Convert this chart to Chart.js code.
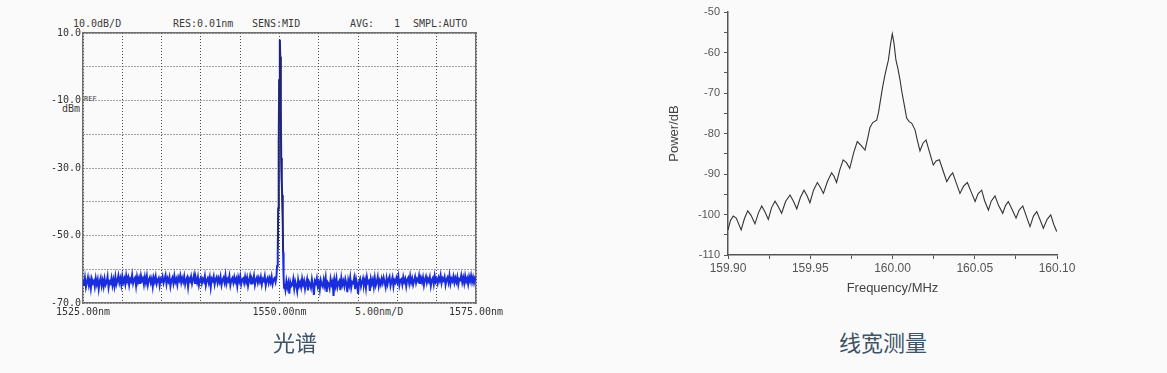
<!DOCTYPE html>
<html lang="zh-CN">
<head>
<meta charset="UTF-8">
<title>光谱与线宽测量</title>
<script src="https://cdn.jsdelivr.net/npm/chart.js"></script>
<style>
  body {
    margin: 0;
    width: 1167px;
    height: 373px;
    position: relative;
    overflow: hidden;
    background: #fafafa;
    font-family: 'DejaVu Sans Mono', monospace;
  }
  canvas { position: absolute; }
  .osa-txt {
    position: absolute;
    font-size: 10px;
    line-height: 12px;
    color: #3a3a3a;
    white-space: pre;
  }
  .caption {
    position: absolute;
    top: 328px;
    font-family: 'Noto Sans CJK SC', sans-serif;
    font-size: 22px;
    line-height: 26px;
    color: #3e5366;
  }
</style>
</head>
<body>
  <div class="osa-txt" style="left:73px;top:18px">10.0dB/D</div>
  <div class="osa-txt" style="left:173px;top:18px">RES:0.01nm</div>
  <div class="osa-txt" style="left:252px;top:18px">SENS:MID</div>
  <div class="osa-txt" style="left:350px;top:18px">AVG:</div>
  <div class="osa-txt" style="left:394px;top:18px">1</div>
  <div class="osa-txt" style="left:413px;top:18px">SMPL:AUTO</div>
  <div class="osa-txt" style="left:84px;top:95px;font-size:7px;line-height:9px">REF</div>
  <div class="osa-txt" style="left:62px;top:103px">dBm</div>
  <div class="osa-txt" style="left:355px;top:306px">5.00nm/D</div>

  <canvas id="osa" width="520" height="330" style="left:0;top:0"></canvas>
  <canvas id="lw" width="520" height="310" style="left:640px;top:0"></canvas>

  <div class="caption" style="left:273px">光谱</div>
  <div class="caption" style="left:839px">线宽测量</div>

  <script>
    // --- 光谱 (OSA) ---
    const noiseStart = 1525;
    const noiseStep = 0.125;
    const noiseLeft = [
      -63.1,-64.9,-62.6,-65.3,-63.8,-62.4,-64.7,-63.2,-65.6,-62.9,-64.1,-63.5,-65.2,-62.7,-64.4,-63.0,-65.8,-63.6,-62.5,-64.9,
      -63.3,-65.1,-62.8,-64.6,-63.9,-62.2,-65.4,-63.7,-64.2,-62.6,-64.8,-63.1,-65.0,-62.3,-64.5,-63.4,-61.9,-64.0,-62.7,-64.6,
      -62.1,-63.9,-62.8,-64.4,-61.8,-63.5,-62.4,-64.7,-62.9,-63.6,-61.7,-64.2,-63.0,-62.5,-64.9,-62.2,-63.8,-62.6,-64.3,-61.9,
      -63.4,-62.7,-64.5,-62.3,-63.9,-62.0,-64.6,-63.1,-62.4,-64.0,-62.8,-65.1,-62.5,-63.7,-62.1,-64.3,-63.2,-62.6,-64.8,-62.9,
      -63.5,-62.2,-64.1,-63.0,-61.8,-64.4,-62.7,-63.6,-62.3,-65.0,-63.2,-62.5,-64.2,-62.0,-63.8,-62.9,-64.6,-62.4,-63.3,-61.9,
      -64.0,-62.6,-63.7,-62.1,-64.5,-63.1,-62.4,-65.2,-62.8,-63.5,-62.2,-64.3,-63.0,-61.7,-64.1,-62.7,-63.9,-62.3,-64.7,-63.2,
      -62.5,-64.2,-62.9,-63.6,-62.0,-64.8,-63.3,-62.6,-64.0,-62.4,-65.3,-62.8,-63.4,-62.1,-64.5,-63.0,-62.3,-64.1,-62.7,-63.8,
      -62.2,-64.6,-63.1,-62.5,-63.9,-61.8,-64.3,-62.9,-63.5,-62.0,-64.7,-63.2,-62.6,-64.0,-62.3,-63.7,-62.8,-65.0,-62.4,-63.6,
      -62.1,-64.4,-63.0,-62.7,-64.1,-62.2,-63.8,-62.5,-64.9,-63.3,-62.0,-64.2,-62.8,-63.5,-61.9,-64.6,-63.1,-62.4,-64.0,-62.6,
      -63.7,-62.3,-64.5,-62.9,-63.4,-62.0,-64.8,-63.2,-62.5,-64.1,-62.7,-63.9,-62.2,-64.4,-63.0,-62.6,-63.8
    ];
    const peakWl = [1549.6, 1549.7, 1549.78, 1549.84, 1549.9, 1549.96, 1550.02, 1550.06, 1550.1, 1550.16, 1550.22, 1550.28, 1550.34, 1550.4, 1550.46, 1550.52, 1550.58];
    const peakDbm = [-62.5, -59.0, -54.0, -42.0, -22.0, -4.0, 5.0, 8.0, 3.0, -12.0, -27.0, -34.0, -38.0, -44.0, -55.0, -62.0, -65.5];
    const noiseRightStart = 1550.625;
    const noiseRight = [
      -64.3,-66.1,-63.5,-65.4,-64.0,-67.2,-63.8,-65.0,-64.6,-62.9,-65.7,-63.6,-64.8,-66.5,-63.2,-64.9,-63.9,-65.3,-62.8,-64.5,
      -63.4,-65.8,-64.1,-62.9,-66.3,-63.7,-64.4,-65.5,-63.0,-64.7,-67.6,-63.5,-64.2,-62.7,-65.1,-63.9,-66.0,-63.3,-64.6,-65.2,
      -63.1,-64.8,-62.6,-66.7,-63.8,-64.3,-65.6,-62.9,-64.5,-63.6,-67.9,-63.2,-64.9,-62.8,-65.3,-64.0,-63.4,-66.2,-62.7,-64.6,
      -63.5,-65.0,-62.9,-64.2,-66.8,-63.3,-64.7,-62.5,-65.4,-63.8,-64.1,-62.6,-65.9,-63.0,-64.4,-67.3,-63.6,-62.8,-65.1,-63.9,
      -62.7,-64.6,-63.2,-65.5,-62.4,-64.0,-63.5,-66.4,-62.9,-64.3,-63.1,-65.2,-62.6,-64.8,-63.7,-62.3,-65.0,-63.4,-64.5,-62.8,
      -64.1,-62.5,-63.9,-65.3,-62.7,-64.4,-63.0,-62.2,-64.9,-63.6,-62.4,-65.1,-63.3,-64.0,-62.6,-63.8,-62.1,-64.7,-63.2,-62.9,
      -64.5,-62.3,-63.7,-62.8,-65.0,-63.1,-62.5,-64.2,-62.0,-63.9,-62.7,-64.6,-63.4,-62.2,-64.1,-62.9,-63.5,-61.9,-64.3,-62.6,
      -63.8,-62.4,-64.7,-63.0,-62.1,-64.0,-62.8,-63.6,-62.3,-64.9,-63.2,-62.6,-64.4,-62.0,-63.7,-62.9,-64.2,-62.5,-63.4,-61.8,
      -64.1,-62.7,-63.3,-62.2,-64.6,-63.0,-62.4,-63.9,-61.9,-64.3,-62.8,-63.5,-62.1,-64.0,-62.6,-63.8,-62.3,-64.5,-62.9,-63.2,
      -61.8,-63.9,-62.5,-64.2,-62.0,-63.6,-62.7,-64.4,-62.2,-63.5,-61.9,-63.8,-62.4,-64.0,-62.6,-63.3
    ];
    const wlLabels = [1525, 1550, 1575];
    const dbmLabels = [10, -10, -30, -50, -70];

    // --- 线宽测量 ---
    const freqMHz = [
      159.900, 159.9015, 159.9032, 159.905, 159.908, 159.910, 159.912, 159.914, 159.9164, 159.9185,
      159.9205, 159.9225, 159.9245, 159.9265, 159.9286, 159.9305, 159.9326, 159.935, 159.9377, 159.940,
      159.9418, 159.944, 159.9462, 159.948, 159.9498, 159.952, 159.9543, 159.956, 159.958, 159.9605,
      159.963, 159.9645, 159.966, 159.968, 159.970, 159.972, 159.974, 159.9765, 159.9786, 159.981,
      159.9833, 159.985, 159.9863, 159.988, 159.9904, 159.9915, 159.9924, 159.994, 159.9954, 159.9965,
      159.9975, 159.9989, 159.9999, 160.0009, 160.0021, 160.0033, 160.0046, 160.0056, 160.0066, 160.0086,
      160.010, 160.0117, 160.0137, 160.015, 160.0167, 160.0185, 160.0204, 160.0225, 160.0248, 160.0265,
      160.0285, 160.031, 160.033, 160.0348, 160.0366, 160.039, 160.041, 160.0432, 160.0455, 160.048,
      160.0502, 160.052, 160.0542, 160.056, 160.0583, 160.060, 160.0623, 160.0645, 160.067, 160.0687,
      160.0704, 160.073, 160.0751, 160.077, 160.0792, 160.0815, 160.0836, 160.0857, 160.0877, 160.090,
      160.0917, 160.094, 160.0962, 160.098, 160.0998
    ];
    const powerDb = [
      -103.8, -101.5, -100.4, -100.9, -103.8, -101.0, -99.1, -100.2, -102.3, -99.6,
      -97.9, -99.4, -101.2, -98.3, -96.7, -98.0, -99.7, -96.8, -95.2, -96.9,
      -98.6, -95.8, -94.0, -95.3, -97.1, -94.0, -92.1, -93.2, -94.8, -91.8,
      -89.7, -90.6, -92.1, -88.9, -86.5, -87.2, -88.6, -84.6, -82.0, -83.0,
      -84.1, -81.0, -78.5, -77.3, -76.7, -74.8, -72.5, -68.5, -65.6, -63.6,
      -61.9, -57.7, -55.4, -57.7, -61.9, -64.0, -66.8, -69.5, -71.7, -76.2,
      -77.0, -77.5, -79.1, -81.5, -84.3, -82.4, -81.6, -84.6, -87.8, -86.8,
      -86.5, -89.5, -91.9, -90.6, -89.7, -92.5, -94.8, -93.0, -92.1, -94.6,
      -96.8, -94.9, -94.0, -96.6, -98.9, -96.7, -95.4, -97.8, -99.7, -97.8,
      -96.8, -99.0, -100.9, -98.9, -97.9, -100.6, -103.0, -100.4, -99.3, -101.6,
      -103.4, -101.2, -100.1, -102.4, -104.2
    ];

    const spectrum = [];
    noiseLeft.forEach((v, i) => spectrum.push({ x: noiseStart + i * noiseStep, y: v }));
    peakWl.forEach((w, i) => spectrum.push({ x: w, y: peakDbm[i] }));
    noiseRight.forEach((v, i) => spectrum.push({ x: noiseRightStart + i * noiseStep, y: v }));
    const peakPts = peakWl.map((w, i) => ({ x: w, y: peakDbm[i] })).filter(p => p.y > -58);

    const mono = { family: 'DejaVu Sans Mono', size: 10 };
    const osaBorder = { display: true, color: '#707070', width: 1.5 };
    const noPad = s => { s.paddingLeft = 0; s.paddingRight = 0; s.paddingTop = 0; s.paddingBottom = 0; };

    new Chart(document.getElementById('osa'), {
      type: 'line',
      data: {
        datasets: [
          { data: peakPts, borderColor: '#26265e', borderWidth: 1.5, pointRadius: 0 },
          { data: spectrum, borderColor: '#1a2ddc', borderWidth: 2, pointRadius: 0 }
        ]
      },
      options: {
        responsive: false,
        animation: false,
        layout: { padding: { left: 50, top: 33, right: 44, bottom: 10 } },
        plugins: { legend: { display: false }, tooltip: { enabled: false } },
        scales: {
          x: {
            type: 'linear', min: 1525, max: 1575,
            afterFit: s => { s.height = 17; noPad(s); },
            ticks: {
              stepSize: 5, autoSkip: false, maxRotation: 0, padding: 3, color: '#333', font: mono,
              callback: v => wlLabels.includes(v) ? v.toFixed(2) + 'nm' : ''
            },
            grid: { color: '#4a4a4a', drawTicks: false },
            border: { display: true, color: '#707070', width: 1.5, dash: [1, 2] }
          },
          y: {
            min: -70, max: 10,
            afterFit: s => { s.width = 33; noPad(s); },
            ticks: {
              stepSize: 10, padding: 2, color: '#333', font: mono,
              callback: v => dbmLabels.includes(v) ? v.toFixed(1) : ''
            },
            grid: { color: '#4a4a4a', drawTicks: false },
            border: { display: true, color: '#707070', width: 1.5, dash: [1, 2] }
          },
          x2: {
            type: 'linear', position: 'top', min: 1525, max: 1575,
            afterFit: s => { s.height = 0; noPad(s); },
            ticks: { display: false }, grid: { display: false }, border: osaBorder
          },
          y2: {
            position: 'right', min: -70, max: 10,
            afterFit: s => { s.width = 0; noPad(s); },
            ticks: { display: false }, grid: { display: false }, border: osaBorder
          }
        }
      }
    });

    const sans = size => ({ family: 'Liberation Sans', size: size });

    new Chart(document.getElementById('lw'), {
      type: 'line',
      data: {
        datasets: [{
          data: freqMHz.map((f, i) => ({ x: f, y: powerDb[i] })),
          borderColor: '#333', borderWidth: 1.1, pointRadius: 0
        }]
      },
      options: {
        responsive: false,
        animation: false,
        layout: { padding: { left: 20, top: 12, right: 103, bottom: 10 } },
        plugins: { legend: { display: false }, tooltip: { enabled: false } },
        scales: {
          x: {
            type: 'linear', min: 159.9, max: 160.1,
            afterFit: s => { s.height = 45; noPad(s); },
            ticks: {
              stepSize: 0.025, autoSkip: false, maxRotation: 0, padding: 2, color: '#555', font: sans(12),
              callback: v => Math.round(v * 1000) % 50 === 0 ? v.toFixed(2) : ''
            },
            grid: { drawOnChartArea: false, tickLength: 4, color: '#555' },
            border: { color: '#555', width: 1.5 },
            title: { display: true, text: 'Frequency/MHz', color: '#444', font: sans(13), padding: { top: 2, bottom: 4 } }
          },
          y: {
            min: -110, max: -50,
            afterFit: s => { s.width = 68; noPad(s); },
            ticks: {
              stepSize: 5, autoSkip: false, padding: 4, color: '#555', font: sans(11),
              callback: v => v % 10 === 0 ? String(v) : ''
            },
            grid: { drawOnChartArea: false, tickLength: 4, color: '#555' },
            border: { color: '#555', width: 1.5 },
            title: { display: true, text: 'Power/dB', color: '#444', font: sans(13), padding: { top: 7, bottom: 0 } }
          }
        }
      }
    });
  </script>
</body>
</html>
